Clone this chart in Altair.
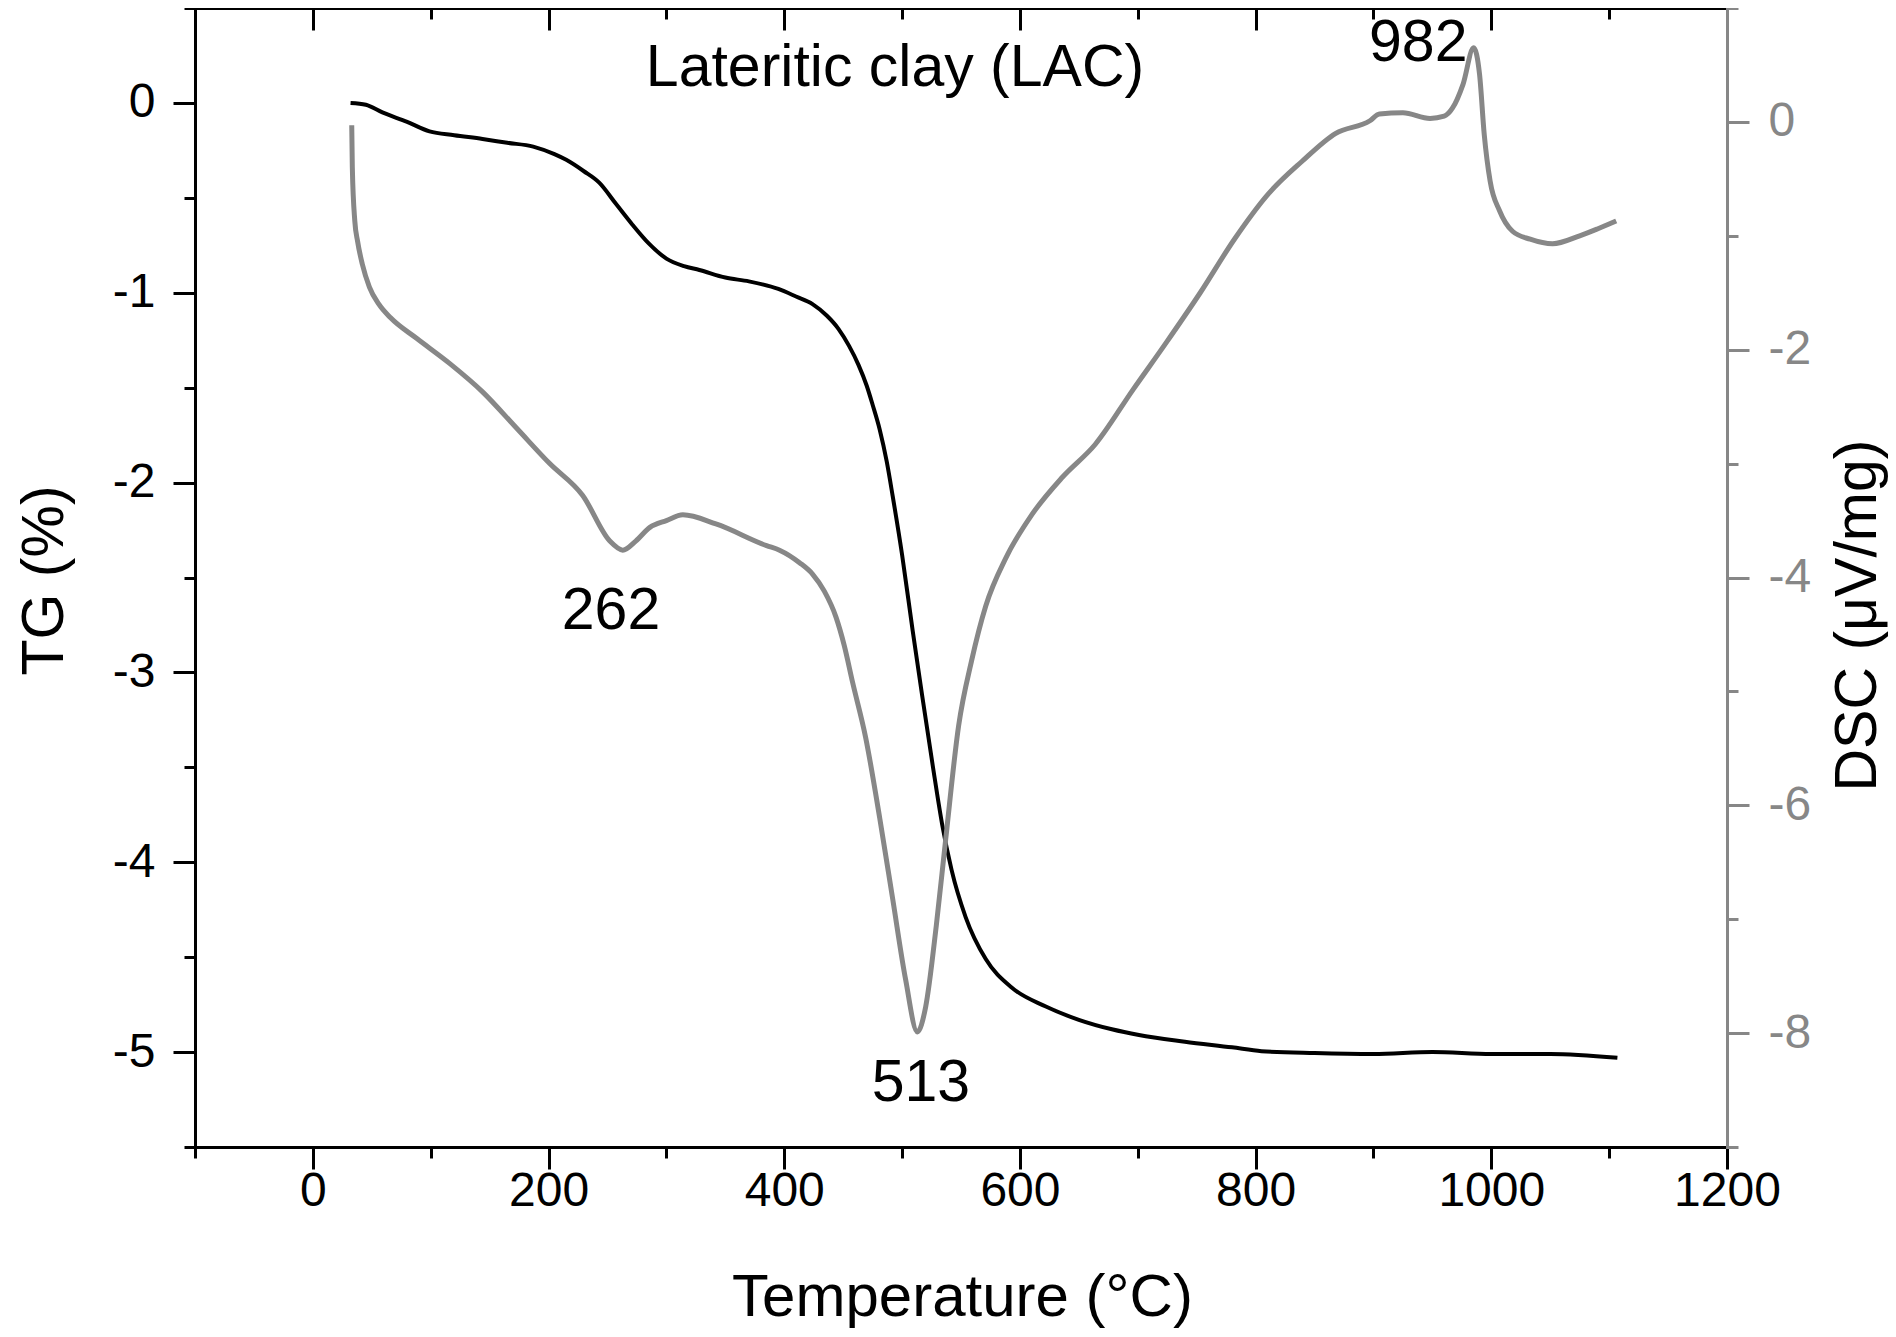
import altair as alt
import pandas as pd

# ---- data ----
tg_temp = [32, 45, 59, 80, 99, 120, 144, 165, 187, 205, 215, 230, 243, 257, 271, 285,
           300, 315, 328, 350, 370, 395, 410, 424, 436, 446, 455, 463, 470, 475, 481,
           487, 492, 500, 509, 517, 526, 534, 542, 554, 571, 593, 622, 650, 678, 701,
           740, 780, 805, 850, 900, 950, 1000, 1050, 1107]
tg_val = [0.0, -0.01, -0.05, -0.10, -0.15, -0.17, -0.19, -0.21, -0.23, -0.27, -0.30,
          -0.36, -0.42, -0.53, -0.64, -0.74, -0.82, -0.86, -0.88, -0.92, -0.94, -0.98,
          -1.02, -1.06, -1.12, -1.19, -1.28, -1.38, -1.49, -1.59, -1.72, -1.89, -2.07,
          -2.38, -2.78, -3.12, -3.49, -3.80, -4.04, -4.29, -4.51, -4.66, -4.76, -4.83,
          -4.88, -4.91, -4.945, -4.975, -4.995, -5.005, -5.01, -5.00, -5.01, -5.01, -5.03]

dsc_temp = [33, 33.5, 35.6, 38, 42, 48, 56, 66, 88, 116, 144, 173, 201, 229, 252, 263,
            274, 286, 300, 314, 342, 385, 396, 413, 424, 434, 444, 451, 458, 469, 481,
            492, 503, 513, 520, 529, 537, 548, 559, 571, 588, 610, 636, 664, 696, 724,
            753, 782, 811, 839, 868, 897, 905, 925, 948, 960, 967, 976, 985, 990, 994,
            999, 1007, 1018, 1033, 1052, 1075, 1090, 1106]
dsc_val = [-0.03, -0.40, -0.87, -1.05, -1.25, -1.45, -1.60, -1.72, -1.90, -2.12, -2.37,
           -2.69, -3.00, -3.28, -3.68, -3.76, -3.68, -3.56, -3.50, -3.45, -3.53, -3.72,
           -3.76, -3.87, -3.97, -4.12, -4.35, -4.60, -4.92, -5.40, -6.11, -6.82, -7.53,
           -7.99, -7.77, -7.06, -6.30, -5.30, -4.73, -4.25, -3.83, -3.45, -3.12, -2.83,
           -2.35, -1.94, -1.50, -1.03, -0.63, -0.35, -0.10, 0.01, 0.07, 0.08, 0.03, 0.05,
           0.12, 0.33, 0.65, 0.42, -0.11, -0.52, -0.78, -0.96, -1.03, -1.07, -1.00,
           -0.94, -0.87]

ann_text = ["262", "513", "982", "Lateritic clay (LAC)"]
ann_temp = [253, 516, 938, 494]
ann_dsc = [-4.45, -8.60, 0.535, 0.315]

x_major = [0, 200, 400, 600, 800, 1000, 1200]
x_minor = [-100, 100, 300, 500, 700, 900, 1100]
tg_major = [-5, -4, -3, -2, -1, 0]
tg_minor = [-5.5, -4.5, -3.5, -2.5, -1.5, -0.5, 0.5]
dsc_major = [-8, -6, -4, -2, 0]
dsc_minor = [-9, -7, -5, -3, -1, 1]

FONT = "Liberation Sans"
GRAY = "#878787"
W, H = 1532, 1139
LABEL_SIZE = 48
TITLE_SIZE = 59

tg_df = pd.DataFrame({"T": tg_temp, "TG": tg_val})
dsc_df = pd.DataFrame({"T": dsc_temp, "DSC": dsc_val})
ann_df = pd.DataFrame({"T": ann_temp, "DSC": ann_dsc, "label": ann_text})

xscale = alt.Scale(domain=[-100, 1200], nice=False, zero=False)
tgscale = alt.Scale(domain=[-5.5, 0.5], nice=False, zero=False)
dscscale = alt.Scale(domain=[-9, 1], nice=False, zero=False)

LBL = "'' + datum.value"

x_bottom = alt.Axis(orient="bottom", values=x_major, tickSize=22, tickWidth=3,
                    tickColor="black", domain=True, domainWidth=3, domainColor="black",
                    domainCap="square", labelFont=FONT, labelFontSize=LABEL_SIZE,
                    labelColor="black", labelPadding=-2, labelFlush=False,
                    labelOverlap=False, labelExpr=LBL, grid=False,
                    title="Temperature (°C)", titleFont=FONT, titleFontSize=60,
                    titleFontWeight="normal", titleColor="black", titleX=767,
                    titleY=168, titleBaseline="alphabetic", titleAlign="center")
x_bottom_minor = alt.Axis(orient="bottom", values=x_minor, tickSize=11, tickWidth=3,
                          tickColor="black", domain=False, labels=False, grid=False,
                          title=None)
x_top_major = alt.Axis(orient="top", values=x_major, tickSize=22, tickWidth=3,
                       tickColor="black", offset=-22, domain=False, labels=False,
                       grid=False, title=None)
x_top_minor = alt.Axis(orient="top", values=x_minor, tickSize=11, tickWidth=3,
                       tickColor="black", offset=-11, domain=False, labels=False,
                       grid=False, title=None)
x_top_domain = alt.Axis(orient="top", ticks=False, labels=False, domain=True,
                        domainWidth=3, domainColor="black", domainCap="square",
                        grid=False, title=None)

y_left = alt.Axis(orient="left", values=tg_major, tickSize=22, tickWidth=3,
                  tickColor="black", domain=True, domainWidth=3, domainColor="black",
                  domainCap="square", labelFont=FONT, labelFontSize=LABEL_SIZE,
                  labelColor="black", labelPadding=18, labelExpr=LBL,
                  labelOverlap=False, grid=False,
                  title="TG (%)", titleFont=FONT, titleFontSize=TITLE_SIZE,
                  titleFontWeight="normal", titleColor="black", titleAngle=270,
                  titleX=-133, titleY=572, titleBaseline="alphabetic",
                  titleAlign="center")
y_left_minor = alt.Axis(orient="left", values=tg_minor, tickSize=11, tickWidth=3,
                        tickColor="black", domain=False, labels=False, grid=False,
                        title=None)
y_right = alt.Axis(orient="right", values=dsc_major, tickSize=22, tickWidth=3,
                   tickColor=GRAY, domain=True, domainWidth=3, domainColor=GRAY,
                   domainCap="square", labelFont=FONT, labelFontSize=LABEL_SIZE,
                   labelColor=GRAY, labelPadding=19, labelExpr=LBL,
                   labelOverlap=False, grid=False,
                   title="DSC (μV/mg)", titleFont=FONT, titleFontSize=TITLE_SIZE,
                   titleFontWeight="normal", titleColor="black", titleAngle=270,
                   titleX=148, titleY=607, titleBaseline="alphabetic",
                   titleAlign="center")
y_right_minor = alt.Axis(orient="right", values=dsc_minor, tickSize=11, tickWidth=3,
                         tickColor=GRAY, domain=False, labels=False, grid=False,
                         title=None)

tg_line = alt.Chart(tg_df).mark_line(color="black", strokeWidth=4,
                                     interpolate="monotone").encode(
    x=alt.X("T:Q", scale=xscale, axis=x_bottom),
    y=alt.Y("TG:Q", scale=tgscale, axis=y_left),
)
dsc_line = alt.Chart(dsc_df).mark_line(color=GRAY, strokeWidth=5,
                                       interpolate="monotone").encode(
    x=alt.X("T:Q", scale=xscale, axis=x_bottom_minor),
    y=alt.Y("DSC:Q", scale=dscscale, axis=y_right),
)
ghost1 = alt.Chart(tg_df).mark_line(opacity=0).encode(
    x=alt.X("T:Q", scale=xscale, axis=x_top_major),
    y=alt.Y("TG:Q", scale=tgscale, axis=y_left_minor),
)
ghost2 = alt.Chart(dsc_df).mark_line(opacity=0).encode(
    x=alt.X("T:Q", scale=xscale, axis=x_top_minor),
    y=alt.Y("DSC:Q", scale=dscscale, axis=y_right_minor),
)
ghost3 = alt.Chart(tg_df).mark_line(opacity=0).encode(
    x=alt.X("T:Q", scale=xscale, axis=x_top_domain),
    y=alt.Y("TG:Q", scale=tgscale, axis=None),
)
ann = alt.Chart(ann_df).mark_text(font=FONT, fontSize=TITLE_SIZE, color="black",
                                  align="center", baseline="alphabetic").encode(
    x=alt.X("T:Q", scale=xscale, axis=None),
    y=alt.Y("DSC:Q", scale=dscscale, axis=None),
    text="label:N",
)

chart = alt.layer(tg_line, dsc_line, ghost1, ghost2, ghost3, ann).resolve_scale(
    y="independent"
).resolve_axis(
    x="independent", y="independent"
).properties(
    width=W, height=H,
    autosize=alt.AutoSizeParams(type="none"),
    padding={"left": 187, "top": 0, "right": 161, "bottom": 182},
    background="white",
).configure_view(strokeWidth=0).configure(font=FONT)

chart.save("out.html", embed_options={"renderer": "svg", "actions": False})
